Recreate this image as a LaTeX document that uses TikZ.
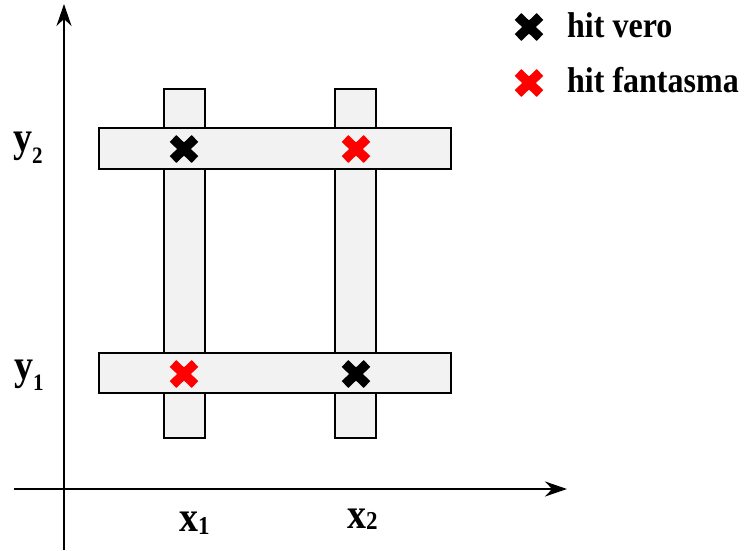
\documentclass[tikz,border=0pt]{standalone}
\usepackage{fontspec}
\setmainfont{Liberation Serif}
\usetikzlibrary{arrows.meta}
\definecolor{stripfill}{HTML}{F2F2F2}
\definecolor{hitred}{HTML}{FF0000}
\tikzset{
  strip/.style={draw=black, fill=stripfill, line width=2pt},
  axis/.style={line width=2.4pt, -{Stealth[length=22pt,width=15pt]}},
  hit/.style={minimum size=40pt, inner sep=0pt,
    path picture={
      \draw[#1, line width=9.5pt]
        ([shift={(-11,-10.5)}]path picture bounding box.center) --
        ([shift={(11,10.5)}]path picture bounding box.center);
      \draw[#1, line width=9.5pt]
        ([shift={(-11,10.5)}]path picture bounding box.center) --
        ([shift={(11,-10.5)}]path picture bounding box.center);
    }},
  legendtext/.style={anchor=base west, inner sep=0pt, font=\fontsize{32}{32}\selectfont\bfseries},
  axlabel/.style={anchor=base west, inner sep=0pt, font=\fontsize{38}{38}\selectfont\bfseries},
}
\newcommand{\vstretch}[1]{\scalebox{1}[1.12]{#1}}
\begin{document}
\begin{tikzpicture}[x=1pt,y=-1pt]
\useasboundingbox (0,0) rectangle (748,550);
% axes
\coordinate (yb) at (64,550);
\coordinate (yt) at (64,4);
\coordinate (xl) at (14,489);
\coordinate (xr) at (567,489);
\draw[axis] (yb) -- (yt);
\draw[axis] (xl) -- (xr);
% vertical strips
\draw[strip] (164,89) rectangle (205,438);
\draw[strip] (335,89) rectangle (376,438);
% horizontal strips
\draw[strip] (99,128) rectangle (451,169);
\draw[strip] (99,353) rectangle (451,393);
% hits
\node[hit=black] (h11) at (184,149) {};
\node[hit=hitred] (h12) at (356,149) {};
\node[hit=hitred] (h21) at (184,374) {};
\node[hit=black] (h22) at (356,374) {};
% legend
\node[hit=black] (lv) at (529,27) {};
\node[hit=hitred] (lf) at (529,83) {};
\node[legendtext] (tv) at (567,37) {\vstretch{hit vero}};
\node[legendtext] (tf) at (567,92) {\vstretch{hit fantasma}};
% axis labels
\node[axlabel] (ly2) at (13,151.5) {\vstretch{y\raisebox{-11pt}{\fontsize{21}{21}\selectfont 2}}};
\node[axlabel] (ly1) at (14,379.5) {\vstretch{y\raisebox{-10pt}{\fontsize{21}{21}\selectfont 1}}};
\node[axlabel] (lx1) at (179,531.5) {\vstretch{x\raisebox{-3pt}{\fontsize{23}{23}\selectfont 1}}};
\node[axlabel] (lx2) at (347,528.5) {\vstretch{x\raisebox{-1pt}{\fontsize{23}{23}\selectfont 2}}};
\end{tikzpicture}
\end{document}
